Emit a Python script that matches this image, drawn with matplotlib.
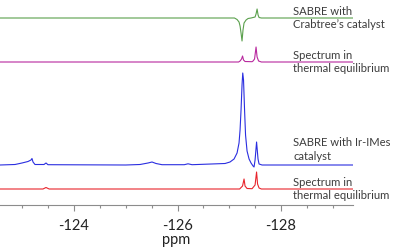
import numpy as np
import matplotlib.pyplot as plt
from matplotlib.ticker import MultipleLocator

# chemical shift range of the plot (ppm)
ppm_left = -122.57
ppm_right = -129.39

# vertical offsets of the four traces (px above the axis line)
offsets = {"green": 187, "magenta": 143, "blue": 40, "red": 16}

# SABRE with Crabtree's catalyst (green)
green_ppm = [ppm_left, -127.10, -127.150, -127.188, -127.208, -127.227, -127.246,
             -127.265, -127.285, -127.324, -127.363, -127.420, -127.498, -127.517,
             -127.537, -127.556, -127.575, -127.62, ppm_right]
green_int = [0, 0, -1.5, -4, -8, -15, -23, -12, -5, -2, -0.5, 0, 1, 4, 9, 3, 0.5, 0, 0]

# thermal equilibrium (magenta)
magenta_ppm = [ppm_left, -127.18, -127.208, -127.237, -127.256, -127.275, -127.304,
               -127.44, -127.459, -127.488, -127.517, -127.537, -127.566, -127.62, ppm_right]
magenta_int = [0, 0, 1, 3, 6, 2, 0.5, 0.3, 1, 3, 15, 5, 1, 0, 0]

# SABRE with Ir-IMes catalyst (blue)
blue_ppm = [ppm_left, -122.86, -122.995, -123.111, -123.169, -123.188, -123.208,
            -123.246, -123.42, -123.459, -123.497, -125.0, -125.275, -125.43,
            -125.507, -125.584, -125.70, -126.13, -126.203, -126.28, -126.918,
            -127.014, -127.092, -127.150, -127.188, -127.208, -127.227, -127.246,
            -127.260, -127.275, -127.295, -127.314, -127.343, -127.382, -127.420,
            -127.459, -127.478, -127.498, -127.527, -127.555, -127.575, -127.633,
            ppm_right]
blue_int = [0, 0.5, 2, 3.5, 5, 6.5, 3, 0.5, 0.5, 2, 0.3, 0, 0.5, 2, 3, 1.5, 0.3,
            0.3, 1.2, 0.3, 1.5, 3, 6, 12, 22, 35, 55, 80, 92, 85, 55, 30, 14, 6,
            2, -1, -2, 5, 23, 6, 1, 0, 0]

# thermal equilibrium (red)
red_ppm = [ppm_left, -123.40, -123.459, -123.52, -127.20, -127.256, -127.285,
           -127.304, -127.343, -127.44, -127.498, -127.527, -127.546, -127.575,
           -127.62, ppm_right]
red_int = [0, 0, 1.5, 0, 0, 3, 10, 3, 0.5, 0.3, 4, 17, 5, 1, 0, 0]

traces = [
    ("green", green_ppm, green_int, "#5aa04c", "SABRE with\nCrabtree\u2019s catalyst", 0),
    ("magenta", magenta_ppm, magenta_int, "#b8289e", "Spectrum in\nthermal equilibrium", 0),
    ("blue", blue_ppm, blue_int, "#2a2ee0", "SABRE with Ir-IMes\ncatalyst", 15.5),
    ("red", red_ppm, red_int, "#e8242c", "Spectrum in\nthermal equilibrium", 0),
]

plt.rcParams["font.family"] = ["Lato", "DejaVu Sans"]

fig = plt.figure(figsize=(4.0, 2.52), dpi=100)
ax = fig.add_axes([0.0, 47 / 252, 353 / 400, 205 / 252])

label_x = ppm_left - 293 / 51.75
for key, xs, ys, color, label, dy in traces:
    base = offsets[key]
    ax.plot(xs, np.array(ys) + base, color=color, lw=0.8)
    ax.text(label_x, base + dy, label, color="#3c3c3c", fontsize=8.1,
            ha="left", va="center", linespacing=1.25, clip_on=False)

ax.set_xlim(ppm_left, ppm_right)
ax.set_ylim(0, 205)
ax.set_yticks([])
for side in ["left", "right", "top"]:
    ax.spines[side].set_visible(False)
ax.spines["bottom"].set_color("#8c8c8c")
ax.spines["bottom"].set_linewidth(0.8)

ax.xaxis.set_major_locator(MultipleLocator(2))
ax.xaxis.set_minor_locator(MultipleLocator(0.5))
ax.tick_params(axis="x", which="major", length=4, width=0.8, color="#8c8c8c",
               labelsize=10.5, labelcolor="#222222", pad=6)
ax.tick_params(axis="x", which="minor", length=2.5, width=0.8, color="#8c8c8c")
ax.set_xticks([-124, -126, -128])
ax.set_xticklabels(["-124", "-126", "-128"])
ax.set_xlabel("ppm", fontsize=10.5, color="#222222", labelpad=0)

fig.savefig("out.png", dpi=100)
